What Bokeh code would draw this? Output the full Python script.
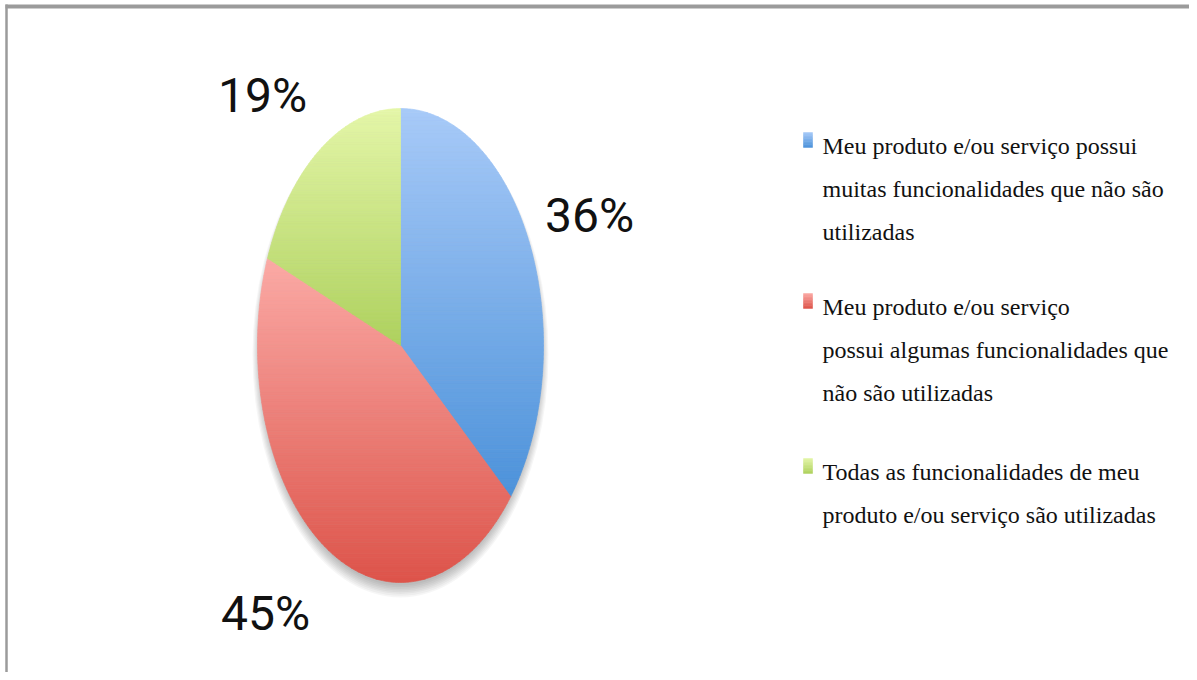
import numpy as np
from bokeh.plotting import figure
from bokeh.models import Range1d
from bokeh.core.properties import value
from bokeh.embed import file_html
from bokeh.resources import INLINE

# ---------------- data ----------------
categories = [
    "Meu produto e/ou serviço possui muitas funcionalidades que não são utilizadas",
    "Meu produto e/ou serviço possui algumas funcionalidades que não são utilizadas",
    "Todas as funcionalidades de meu produto e/ou serviço são utilizadas",
]
legend_lines = [
    ["Meu produto e/ou serviço possui", "muitas funcionalidades que não são", "utilizadas"],
    ["Meu produto e/ou serviço", "possui algumas funcionalidades que", "não são utilizadas"],
    ["Todas as funcionalidades de meu", "produto e/ou serviço são utilizadas"],
]
shares = [36, 45, 19]
pct_labels = ["36%", "45%", "19%"]

# ---------------- styles ----------------
top_colors = [(168, 202, 248), (251, 170, 166), (228, 246, 168)]
bottom_colors = [(76, 146, 218), (221, 84, 74), (174, 209, 94)]

W, H = 1189, 672

p = figure(width=W, height=H, output_backend="svg", toolbar_location=None,
           x_range=Range1d(0, W), y_range=Range1d(H, 0),
           x_axis_location=None, y_axis_location=None, min_border=0)
p.grid.visible = False
p.outline_line_color = None
p.background_fill_color = "white"
p.border_fill_color = "white"

# frame border (top and left)
p.line(x=[5, W], y=[6, 6], line_color="#9b9b9b", line_width=4)
p.line(x=[6, 6], y=[4, H], line_color="#9b9b9b", line_width=2.5)

cx, cy, rx, ry = 400, 345, 143, 237


def hexc(c):
    return "#%02x%02x%02x" % tuple(int(round(v)) for v in c)


def clip(pts, keep, inter):
    out = []
    n = len(pts)
    for i in range(n):
        a = pts[i]
        b = pts[(i + 1) % n]
        ia, ib = keep(a), keep(b)
        if ia:
            out.append(a)
            if not ib:
                out.append(inter(a, b))
        elif ib:
            out.append(inter(a, b))
    return out


def ix(yc):
    def f(a, b):
        t = (yc - a[1]) / (b[1] - a[1])
        return (a[0] + t * (b[0] - a[0]), yc)
    return f


def band(pts, y0, y1):
    q = clip(pts, lambda r: r[1] >= y0, ix(y0))
    if q:
        q = clip(q, lambda r: r[1] <= y1, ix(y1))
    return q


# soft shadow under the pie
for k in range(8):
    p.ellipse(x=[cx], y=[cy + 9 - k * 0.6], width=[2 * rx + 10 - 2.2 * k],
              height=[2 * ry + 12 - 2.2 * k], fill_color="black",
              fill_alpha=0.035, line_color=None)

# pie slices with vertical gradient
fr = np.array(shares, dtype=float) / sum(shares)
ends = np.cumsum(fr) * 2 * np.pi
starts = ends - fr * 2 * np.pi
xs_all, ys_all, cols = [], [], []
for i in range(len(shares)):
    t = np.linspace(starts[i], ends[i], 240)
    px = cx + rx * np.sin(t)
    py = cy - ry * np.cos(t)
    pts = [(cx, cy)] + list(zip(px, py))
    ymin = min(q[1] for q in pts)
    ymax = max(q[1] for q in pts)
    nb = 90
    edges = np.linspace(ymin, ymax, nb + 1)
    for j in range(nb):
        q = band(pts, edges[j], edges[j + 1])
        if len(q) < 3:
            continue
        f = (j + 0.5) / nb
        c = [top_colors[i][k] + f * (bottom_colors[i][k] - top_colors[i][k]) for k in range(3)]
        xs_all.append([r[0] for r in q])
        ys_all.append([r[1] for r in q])
        cols.append(hexc(c))
p.patches(xs=xs_all, ys=ys_all, fill_color=cols, line_color=cols, line_width=0.7)

# percentage labels
lab_x = [589, 265, 262]
lab_y = [215, 613, 95]
p.text(x=lab_x, y=lab_y, text=pct_labels, text_font=value("Roboto"),
       text_font_size="48px", text_align="center", text_baseline="middle",
       text_color="#111111")

# legend
base_y = [145, 306, 471]
gap = 43
tx, ty, tt = [], [], []
mxs, mys, mcs = [], [], []
for i, lines in enumerate(legend_lines):
    for j, ln in enumerate(lines):
        tx.append(822)
        ty.append(base_y[i] + j * gap)
        tt.append(ln)
    top = base_y[i] - 13
    nbm = 10
    for j in range(nbm):
        y0 = top + j * 15 / nbm
        y1 = top + (j + 1) * 15 / nbm
        f = (j + 0.5) / nbm
        c = [top_colors[i][k] + f * (bottom_colors[i][k] - top_colors[i][k]) for k in range(3)]
        mxs.append([803, 812, 812, 803])
        mys.append([y0, y0, y1, y1])
        mcs.append(hexc(c))
p.patches(xs=mxs, ys=mys, fill_color=mcs, line_color=mcs, line_width=0.5)
p.text(x=tx, y=ty, text=tt, text_font=value("Liberation Serif"),
       text_font_size="24px", text_align="left", text_baseline="alphabetic",
       text_color="#111111")

open("out.html", "w").write(file_html(p, INLINE))
